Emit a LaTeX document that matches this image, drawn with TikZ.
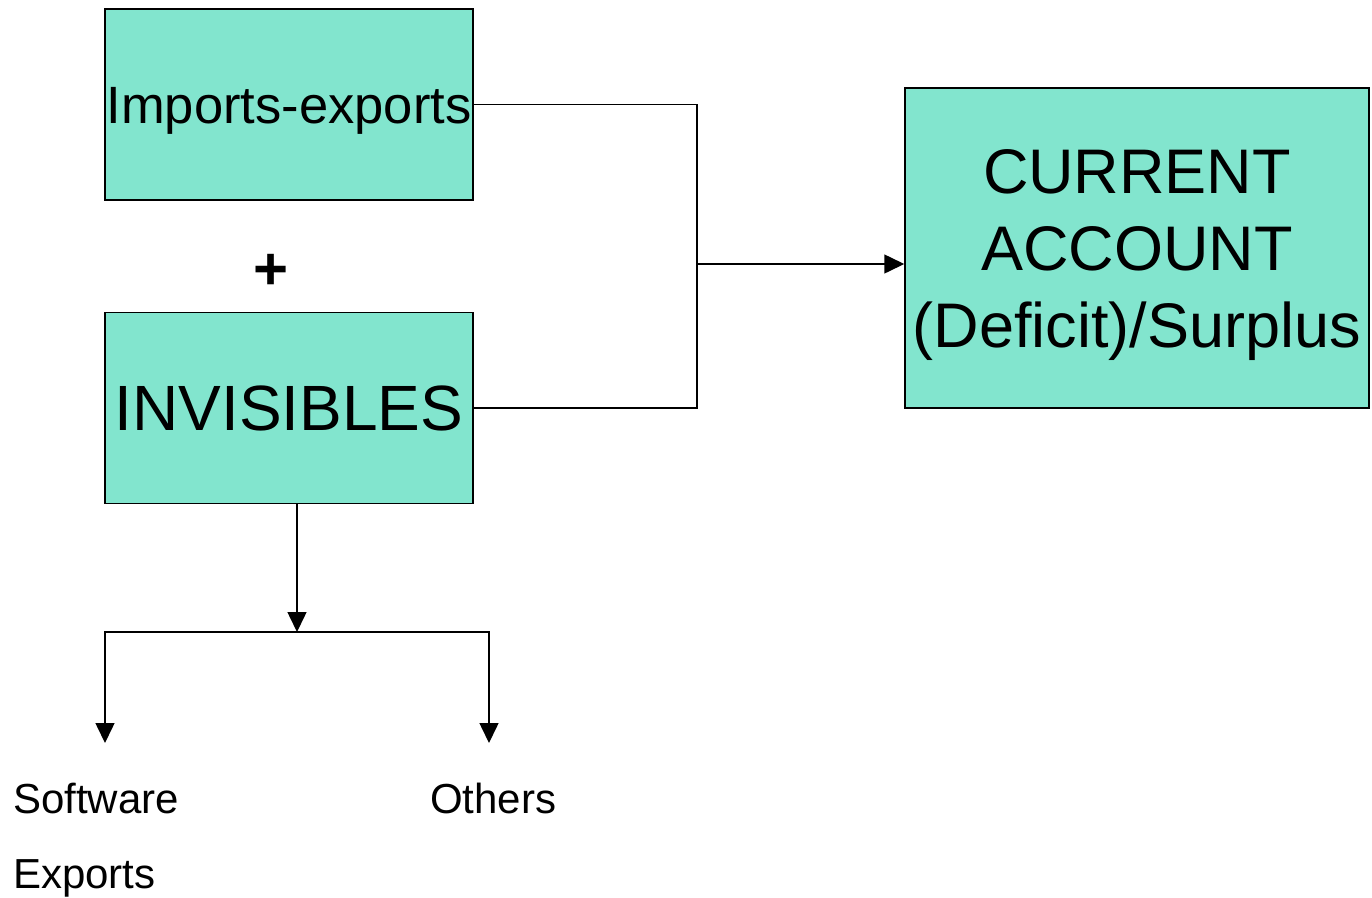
\documentclass[tikz,border=0pt]{standalone}
\usepackage{fontspec}
\setmainfont{Liberation Sans}
\usepackage{tikz}
\usetikzlibrary{arrows.meta, calc}
\definecolor{boxgreen}{HTML}{82E5CE}

\begin{document}
\begin{tikzpicture}[>={Triangle[length=20pt, width=19pt]}, x=1pt, y=-1pt,
    box/.style={draw, line width=1.5pt, fill=boxgreen, inner sep=0pt, align=center, text depth=0pt},
    conn/.style={line width=1.5pt},
    leaf/.style={anchor=base west, inner sep=0pt, font=\fontsize{42}{50}\selectfont}]

    \useasboundingbox (0,0) rectangle (1372,897);

    % Boxes
    \node[box, minimum width=368pt, minimum height=191pt, text height=37.6pt, font=\fontsize{52.5}{60}\selectfont] (imp) at (289,104.5) {Imports-exports};
    \node[box, minimum width=368pt, minimum height=191pt, font=\fontsize{64}{72}\selectfont] (inv) at (289,408) {INVISIBLES};
    \node[box, minimum width=464pt, minimum height=320pt, font=\fontsize{63}{77}\selectfont] (cur) at (1137,248) {CURRENT\\ACCOUNT\\(Deficit)/Surplus};

    \node[font=\fontsize{60}{60}\selectfont\bfseries, inner sep=0pt] (plus) at (271,272) {+};

    % Labels below
    \node[leaf] (sw) at (13,813) {Software};
    \node[leaf] (swb) at (13,888) {Exports};
    \node[leaf] (oth) at (430,813) {Others};

    % Junctions
    \coordinate (join) at (697,264);
    \coordinate (split) at (297,632);
    \coordinate (swtip) at (105,743);
    \coordinate (othtip) at (489,743);

    % Connectors
    \draw[conn] (imp.east) -| (join) |- (inv.east);
    \draw[conn, ->] (join) -- (join -| cur.west);
    \draw[conn, ->] (split |- inv.south) -- (split);
    \draw[conn, ->] (split) -| (swtip);
    \draw[conn, ->] (split) -| (othtip);
\end{tikzpicture}
\end{document}
